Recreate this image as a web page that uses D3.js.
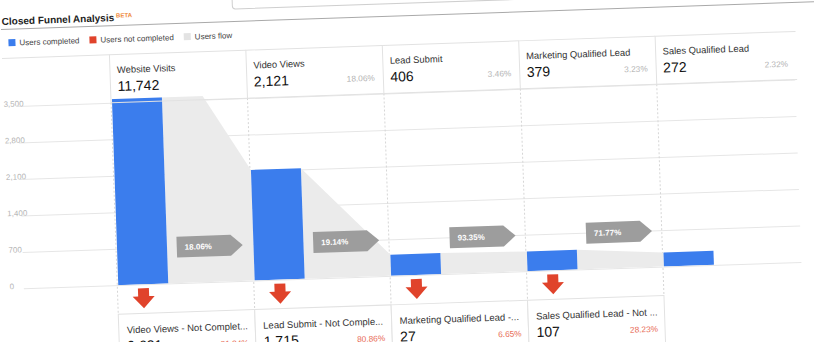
<!DOCTYPE html>
<html>
<head>
<meta charset="utf-8">
<script src="https://cdn.jsdelivr.net/npm/d3@7"></script>
<style>
  body { margin: 0; background: #fff; overflow: hidden; }
  svg { display: block; }
  text { font-family: "Liberation Sans", Arial, Helvetica, sans-serif; }
</style>
</head>
<body>
<svg id="chart" width="814" height="342"></svg>
<script>
// Funnel steps and the users who completed each one
const steps = ["Website Visits", "Video Views", "Lead Submit", "Marketing Qualified Lead", "Sales Qualified Lead"];
const completed = [11742, 2121, 406, 379, 272];
const ofTotalPct = ["", "18.06%", "3.46%", "3.23%", "2.32%"];

// Step-to-step conversion shown on the flow arrows
const stepConversion = ["18.06%", "19.14%", "93.35%", "71.77%"];

// Users who dropped out after each step
const droppedLabels = ["Video Views - Not Complet...", "Lead Submit - Not Comple...", "Marketing Qualified Lead -...", "Sales Qualified Lead - Not ..."];
const droppedValues = [9621, 1715, 27, 107];
const droppedPct = ["81.94%", "80.86%", "6.65%", "28.23%"];

// Y axis ticks
const yTicks = [0, 700, 1400, 2100, 2800, 3500];
const legendItems = ["Users completed", "Users not completed", "Users flow"];

// Values above the axis range are capped before drawing the flow band
const flowCap = 4860;

const COLORS = { done: "#3b7ded", dropped: "#e0432b", flow: "#ebebeb", tag: "#9d9d9d" };

const svg = d3.select("#chart");
const root = svg.append("g").attr("transform", "rotate(-1.95)");

// Search box edge at the top
root.append("rect")
  .attr("x", 232).attr("y", -40).attr("width", 700).attr("height", 57)
  .attr("rx", 3).attr("fill", "#fff").attr("stroke", "#cfcfcf");

// Title
const title = root.append("text")
  .attr("x", 1).attr("y", 25)
  .attr("font-size", 10).attr("font-weight", "bold").attr("fill", "#222")
  .text("Closed Funnel Analysis");
const tw = title.node().getComputedTextLength();
root.append("text")
  .attr("x", 1 + tw + 2).attr("y", 21.5)
  .attr("font-size", 6).attr("font-weight", "bold").attr("fill", "#ef8a3c")
  .text("BETA");
root.append("line")
  .attr("x1", 0).attr("x2", 840).attr("y1", 29.5).attr("y2", 29.5)
  .attr("stroke", "#a9a9a9");

// Legend
const legendColors = [COLORS.done, COLORS.dropped, "#e3e3e3"];
let lx = 7;
legendItems.forEach((name, i) => {
  root.append("rect")
    .attr("x", lx).attr("y", 39.5).attr("width", 7).attr("height", 7)
    .attr("fill", legendColors[i]);
  const t = root.append("text")
    .attr("x", lx + 11).attr("y", 46)
    .attr("font-size", 8).attr("fill", "#444")
    .text(name);
  lx += 11 + t.node().getComputedTextLength() + 10;
});

// Scales
const x = d3.scaleBand().domain(steps).range([107.5, 790]);
const bw = x.bandwidth();
const barW = 50;
const y = d3.scaleLinear().domain([0, 3500]).range([289, 106.5]);
const headerTop = 58.5;
const boxTop = 318;
const gridRight = 792;

// Gridlines and tick labels
const axis = d3.axisLeft(y)
  .tickValues(yTicks)
  .tickFormat(d3.format(","))
  .tickSize(-(gridRight - 14))
  .tickPadding(0);
const ag = root.append("g").attr("transform", "translate(14,0)").call(axis);
ag.select(".domain").remove();
ag.selectAll(".tick line").attr("stroke", "#e6e6e6");
ag.selectAll(".tick text")
  .attr("x", -14).attr("dy", 0)
  .attr("text-anchor", "start")
  .attr("font-size", 8).attr("fill", "#b5b5b5")
  .attr("font-family", "Liberation Sans, Arial, sans-serif");

// Dashed column separators
root.append("g").selectAll("line").data(steps).join("line")
  .attr("x1", d => x(d)).attr("x2", d => x(d))
  .attr("y1", y(3500)).attr("y2", boxTop)
  .attr("stroke", "#d6d6d6").attr("stroke-dasharray", "2,2");

// Plot clip (values above the top are cut off)
svg.append("defs").append("clipPath").attr("id", "plotClip")
  .append("rect").attr("x", 0).attr("width", 814)
  .attr("y", y(3570)).attr("height", y(0) - y(3570));

const plot = root.append("g").attr("clip-path", "url(#plotClip)");

// Flow bands between bars
const flows = d3.range(steps.length - 1).map(i => ({
  x0: x(steps[i]) + 1 + barW,
  x1: x(steps[i + 1]) + 1,
  v0: Math.min(completed[i], flowCap),
  v1: completed[i + 1]
}));
plot.selectAll("path.flow").data(flows).join("path")
  .attr("class", "flow")
  .attr("fill", COLORS.flow)
  .attr("d", f => `M${f.x0},${y(0)}L${f.x0},${y(f.v0)}L${f.x1},${y(f.v1)}L${f.x1},${y(0)}Z`);

// Completed bars
plot.selectAll("rect.bar").data(steps).join("rect")
  .attr("class", "bar")
  .attr("x", d => x(d) + 1)
  .attr("width", barW)
  .attr("y", (d, i) => y(completed[i]))
  .attr("height", (d, i) => y(0) - y(completed[i]))
  .attr("fill", COLORS.done);

// Conversion tags
const tagH = 21, tagBody = 54, tagTip = 12, tagCy = 253;
const tags = root.append("g").selectAll("g").data(stepConversion).join("g")
  .attr("transform", (d, i) => {
    const cx = (x(steps[i]) + 1 + barW + x(steps[i]) + bw) / 2;
    return `translate(${cx - (tagBody + tagTip) / 2},${tagCy})`;
  });
tags.append("path")
  .attr("fill", COLORS.tag)
  .attr("d", `M0,${-tagH / 2}H${tagBody}L${tagBody + tagTip},0L${tagBody},${tagH / 2}H0Z`);
tags.append("text")
  .attr("x", 8).attr("y", 3)
  .attr("font-size", 8).attr("font-weight", "bold").attr("fill", "#fff")
  .text(d => d);

// Drop-off arrows under the bars
root.append("g").selectAll("path").data(droppedValues).join("path")
  .attr("fill", COLORS.dropped)
  .attr("d", (d, i) => {
    const cx = x(steps[i]) + 1 + barW / 2, t = 293;
    return `M${cx - 5.5},${t}H${cx + 5.5}V${t + 8}H${cx + 11}L${cx},${t + 20}L${cx - 11},${t + 8}H${cx - 5.5}Z`;
  });

// Header cells (the last one runs out to the gridline end)
root.append("line")
  .attr("x1", 0).attr("x2", x(steps[0])).attr("y1", headerTop).attr("y2", headerTop)
  .attr("stroke", "#e2e2e2");
const cellW = (d, i) => i === steps.length - 1 ? gridRight + 2 - x(d) : bw;
const head = root.append("g").selectAll("g").data(steps).join("g")
  .attr("transform", d => `translate(${x(d)},${headerTop})`);
head.append("path")
  .attr("fill", "none").attr("stroke", "#e2e2e2")
  .attr("d", (d, i) => `M0,${y(3500) - headerTop}V0H${cellW(d, i)}M0,${y(3500) - headerTop}H${cellW(d, i)}`);
head.append("text")
  .attr("x", 7).attr("y", 18.5)
  .attr("font-size", 9.4).attr("fill", "#333")
  .text(d => d);
head.append("text")
  .attr("x", 7).attr("y", 36.5)
  .attr("font-size", 14).attr("fill", "#111")
  .text((d, i) => d3.format(",")(completed[i]));
head.append("text")
  .attr("x", (d, i) => cellW(d, i) - 8.5).attr("y", 35)
  .attr("text-anchor", "end")
  .attr("font-size", 8.3).attr("fill", "#b3b3b3")
  .text((d, i) => ofTotalPct[i]);

// Not-completed boxes
const box = root.append("g").selectAll("g").data(droppedLabels).join("g")
  .attr("transform", (d, i) => `translate(${x(steps[i])},${boxTop})`);
box.append("rect")
  .attr("width", bw).attr("height", 70)
  .attr("fill", "#fff").attr("stroke", "#e2e2e2");
box.append("text")
  .attr("x", 8).attr("y", 19.5)
  .attr("font-size", 9.5).attr("fill", "#333")
  .text(d => d);
box.append("text")
  .attr("x", 8).attr("y", 37)
  .attr("font-size", 14).attr("fill", "#111")
  .text((d, i) => d3.format(",")(droppedValues[i]));
box.append("text")
  .attr("x", bw - 7).attr("y", 36)
  .attr("text-anchor", "end")
  .attr("font-size", 8.3).attr("fill", "#e86a55")
  .text((d, i) => droppedPct[i]);
</script>
</body>
</html>
